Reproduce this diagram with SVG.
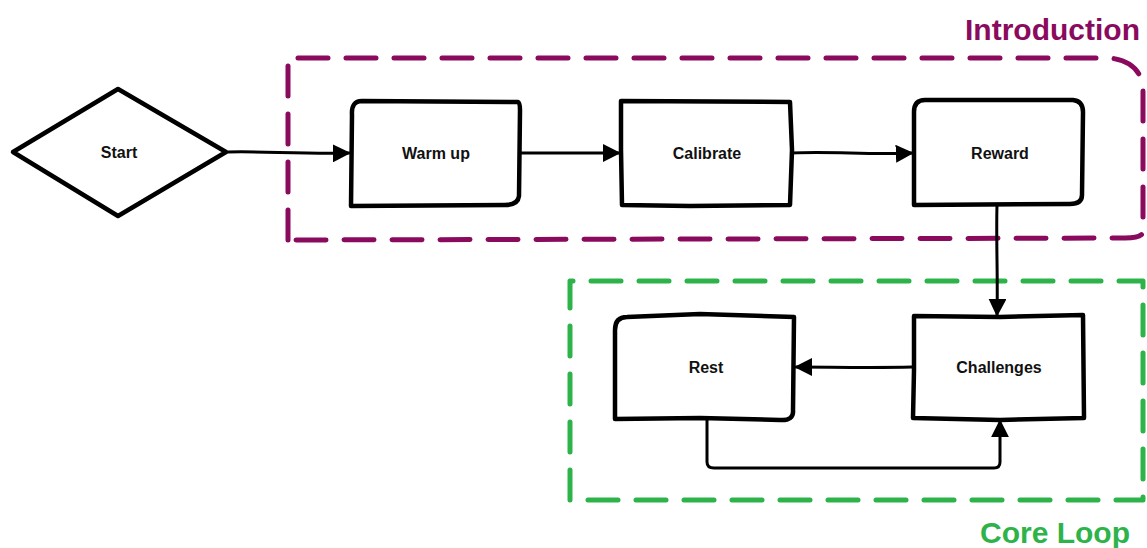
<svg xmlns="http://www.w3.org/2000/svg" width="1147" height="548" viewBox="0 0 1147 548">
  <style>
    .node { fill: #ffffff; stroke: #000000; stroke-width: 4.5; stroke-linejoin: round; stroke-linecap: round; }
    .label { font-family: "Liberation Sans", Arial, sans-serif; font-size: 16px; font-weight: bold; fill: #111111; text-anchor: middle; }
    .edge { fill: none; stroke: #000000; stroke-width: 3; stroke-linejoin: round; stroke-linecap: round; }
    .frame { fill: none; stroke-width: 5; stroke-dasharray: 30 18; stroke-linecap: round; stroke-linejoin: round; }
    .title { font-family: "Liberation Sans", Arial, sans-serif; font-size: 30px; font-weight: bold; }
  </style>
  <defs>
    <marker id="arrow" viewBox="0 0 10 10" refX="9" refY="5" markerWidth="6" markerHeight="6" markerUnits="strokeWidth" orient="auto">
      <path d="M0,0 L10,5 L0,10 Z" fill="#000000"/>
    </marker>
  </defs>

  <!-- group frames -->
  <g id="introduction">
    <path class="frame" stroke="#8a0a5e" d="M288,240 L288,58 L1110,58 Q1143,62 1143,92 L1143,232 Q1142,238 1125,238 L288,240"/>
    <text class="title" x="1140" y="40" fill="#8a0a5e" text-anchor="end">Introduction</text>
  </g>
  <g id="core-loop">
    <path class="frame" stroke="#2db34a" d="M570,500 L570,281 L1143,281 L1143,500 L570,500"/>
    <text class="title" x="1130" y="543" fill="#2db34a" text-anchor="end">Core Loop</text>
  </g>

  <!-- connectors -->
  <g id="connectors">
    <path class="edge" marker-end="url(#arrow)" d="M228,152 C260,151 300,154 349,153"/>
    <path class="edge" marker-end="url(#arrow)" d="M520,153 L619,153"/>
    <path class="edge" marker-end="url(#arrow)" d="M792,153 C830,151 870,155 912,153"/>
    <path class="edge" marker-end="url(#arrow)" d="M997,205 C996,240 998,280 997,315"/>
    <path class="edge" marker-end="url(#arrow)" d="M912,367 C870,368 830,367 796,367"/>
    <path class="edge" marker-end="url(#arrow)" d="M707,420 L707,462 Q707,468 714,468 L994,468 Q1000,468 1000,462 L1000,421"/>
  </g>

  <!-- nodes -->
  <g id="start">
    <path class="node" stroke-width="6" d="M13,152 L118,89 L226,152 L118,216 Z"/>
    <text class="label" x="119" y="158">Start</text>
  </g>
  <g id="warm-up">
    <path class="node" d="M362,101 L518,102 Q520,103 520,110 L519,196 Q518,205 505,205 L351,206 L352,115 Q351,101 362,101 Z"/>
    <text class="label" x="436" y="159">Warm up</text>
  </g>
  <g id="calibrate">
    <path class="node" d="M621,101 L790,102 L792,150 L790,205 L690,206 L622,205 L621,150 Z"/>
    <text class="label" x="707" y="159">Calibrate</text>
  </g>
  <g id="reward">
    <path class="node" d="M925,100 L1073,100 Q1083,101 1083,112 L1082,195 Q1082,204 1070,204 L914,205 L914,112 Q914,100 925,100 Z"/>
    <text class="label" x="1000" y="159">Reward</text>
  </g>
  <g id="rest">
    <path class="node" d="M627,317 L700,314 L794,317 L793,410 Q794,421 780,420 L700,418 L615,419 L615,330 Q615,317 627,317 Z"/>
    <text class="label" x="706" y="373">Rest</text>
  </g>
  <g id="challenges">
    <path class="node" d="M914,316 L1000,317 L1083,315 L1084,418 L1000,420 L913,418 L914,370 Z"/>
    <text class="label" x="999" y="373">Challenges</text>
  </g>
</svg>
